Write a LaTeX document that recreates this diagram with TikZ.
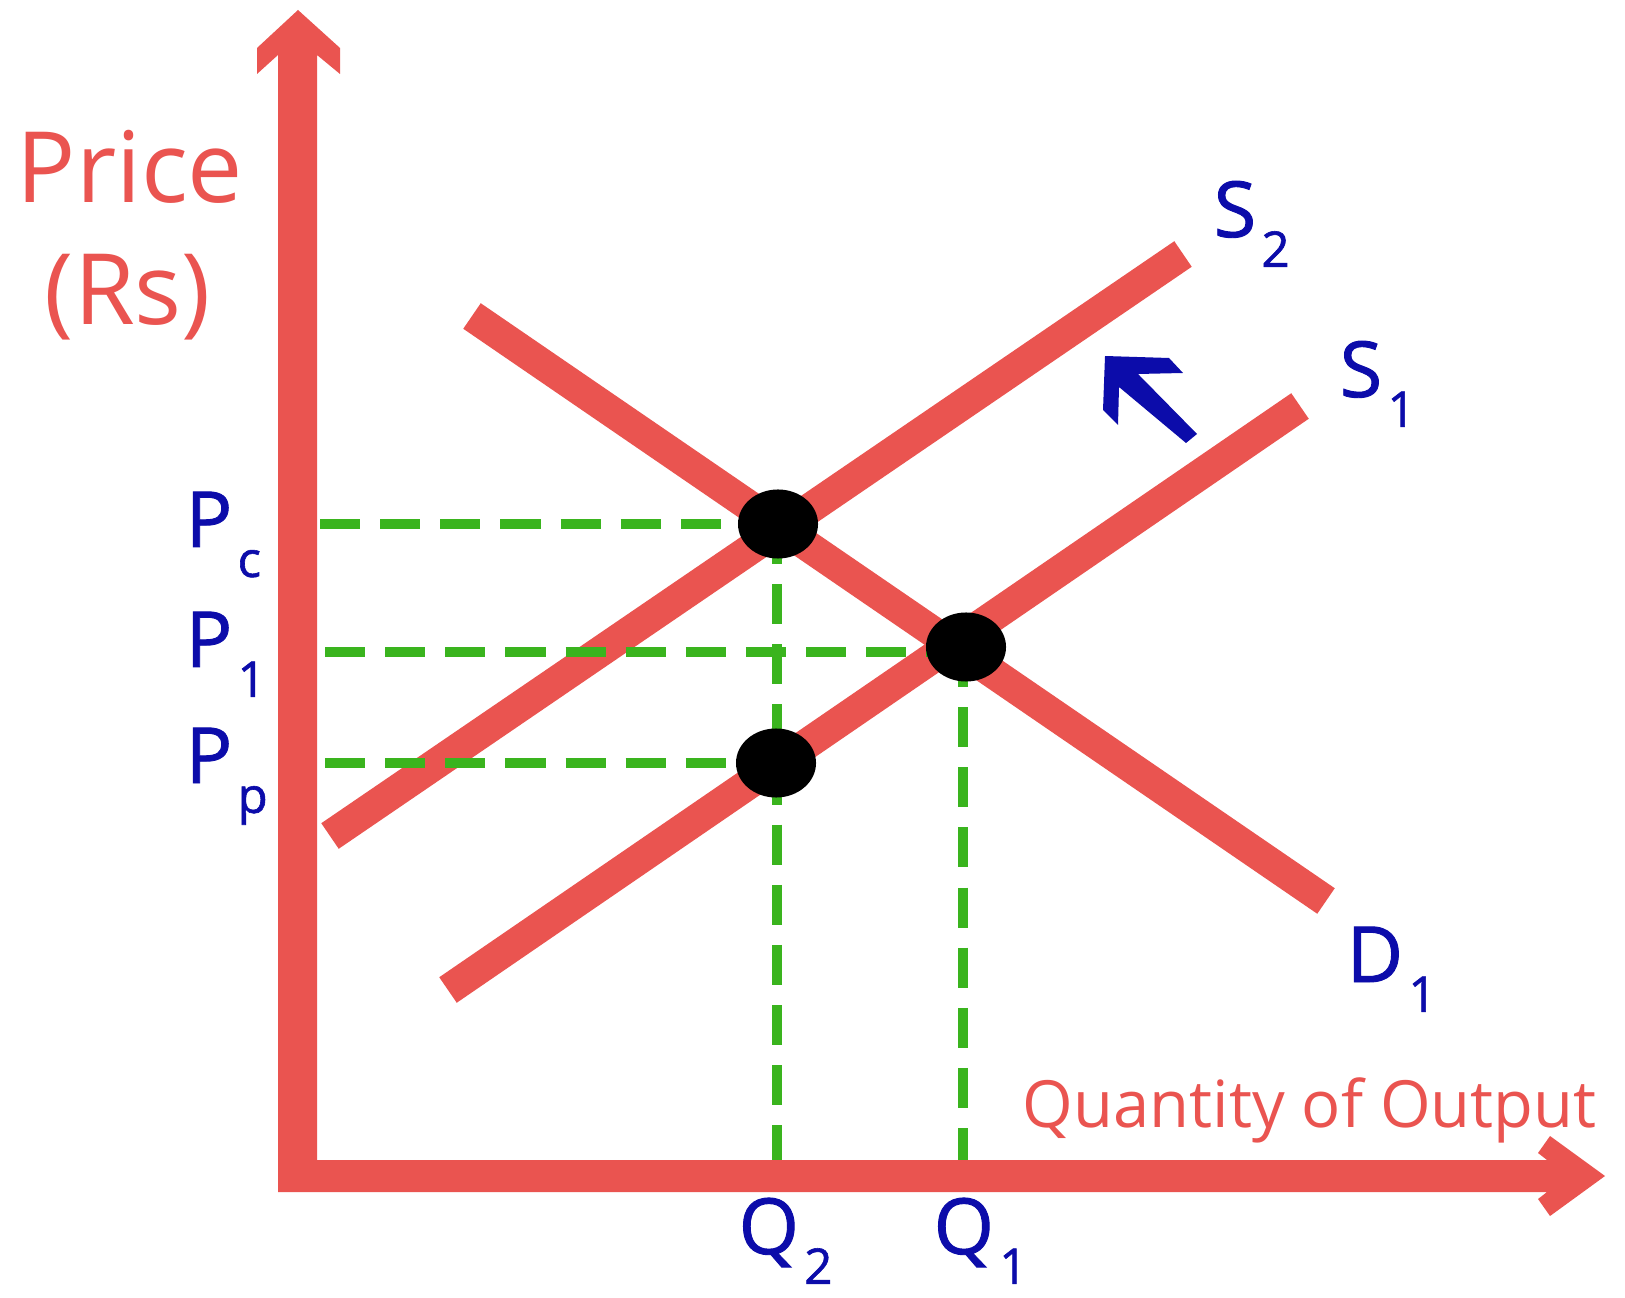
\documentclass[tikz,border=0pt]{standalone}
\usepackage{fontspec}
\setmainfont{Open Sans}
\newfontfamily\lblfont[FakeBold=1.2]{Open Sans}
\usetikzlibrary{shapes.geometric}
\definecolor{axred}{RGB}{234,84,80}
\definecolor{lblue}{RGB}{12,12,170}
\definecolor{dgreen}{RGB}{58,180,30}
\newcommand{\lsub}[1]{\hspace{1.5pt}\raisebox{-8.5pt}{\fontsize{14}{14}\selectfont #1}}
\begin{document}
\begin{tikzpicture}[x=0.01cm,y=-0.01cm,
  curve/.style={draw=axred,line width=8.8pt,line cap=butt},
  guide/.style={draw=dgreen,line width=2.85pt,dash pattern=on 11.4pt off 5.7pt},
  eqdot/.style={ellipse,fill=black,minimum width=0.8cm,minimum height=0.69cm,inner sep=0pt},
  lbl/.style={text=lblue,font=\lblfont\fontsize{22}{22}\selectfont,inner sep=0pt,anchor=base west},
  axlbl/.style={text=axred,inner sep=0pt,anchor=base}]
\fill[white] (0,0) rectangle (1625,1298);
\useasboundingbox (0,0) rectangle (1625,1298);

% curve end points
\coordinate (S2a) at (330,836);
\coordinate (S2b) at (1183,254);
\coordinate (S1a) at (448,990);
\coordinate (S1b) at (1300,406);
\coordinate (D1a) at (472,316);
\coordinate (D1b) at (1326,901);
% equilibrium points
\coordinate (Ec) at (778,524);
\coordinate (E1) at (966,647);
\coordinate (Ep) at (776,763);
% guide ends on the axes
\coordinate (yPc) at (320,524);
\coordinate (yP1) at (325,652);
\coordinate (yPp) at (325,763);
\coordinate (xQ2) at (777,1160);
\coordinate (xQ1) at (963,1160);

% supply and demand curves
\draw[curve] (S2a) -- (S2b);
\draw[curve] (S1a) -- (S1b);
\draw[curve] (D1a) -- (D1b);

% guides
\draw[guide] (yPc) -- (Ec);
\draw[guide] (yP1) -- (yP1 -| E1);
\draw[guide] (yPp) -- (Ep);
\draw[guide] (xQ2 |- Ec) -- (xQ2);
\draw[guide] (xQ1 |- E1) -- (xQ1);

% dots
\node[eqdot] (dPc) at (Ec) {};
\node[eqdot] (dP1) at (E1) {};
\node[eqdot] (dPp) at (Ep) {};

% axes
\fill[axred] (278,1192) -- (278,55) -- (257,74) -- (257,48) -- (298,10) -- (340,48)
  -- (340,74) -- (317,55) -- (317,1160) -- (1547,1160) -- (1538,1153) -- (1550,1136)
  -- (1605,1176) -- (1550,1216) -- (1538,1199) -- (1547,1192) -- cycle;

% shift arrow
\fill[lblue] (1105,356) -- (1169,358) -- (1183,373) -- (1138,374) -- (1197,434)
  -- (1186,443) -- (1119,387) -- (1118,425) -- (1103,410) -- cycle;

% axis labels
\node[axlbl,font=\fontsize{28}{28}\selectfont] (price) at (130,203) {Price};
\node[axlbl,font=\fontsize{28}{28}\selectfont] (rs) at (128,325) {(Rs)};
\node[axlbl,anchor=base east,font=\fontsize{18.5}{18.5}\selectfont] (qty) at (1597,1127) {Quantity of Output};

% point labels
\node[lbl] (lPc) at (185,547) {P\lsub{c}};
\node[lbl] (lP1) at (185,667) {P\lsub{1}};
\node[lbl] (lPp) at (185,783) {P\lsub{p}};
\node[lbl] (lQ2) at (738,1254) {Q\lsub{2}};
\node[lbl] (lQ1) at (933,1254) {Q\lsub{1}};
\node[lbl] (lS2) at (1213,237) {S\lsub{2}};
\node[lbl] (lS1) at (1339,397) {S\lsub{1}};
\node[lbl] (lD1) at (1346,982) {D\lsub{1}};
\end{tikzpicture}
\end{document}
